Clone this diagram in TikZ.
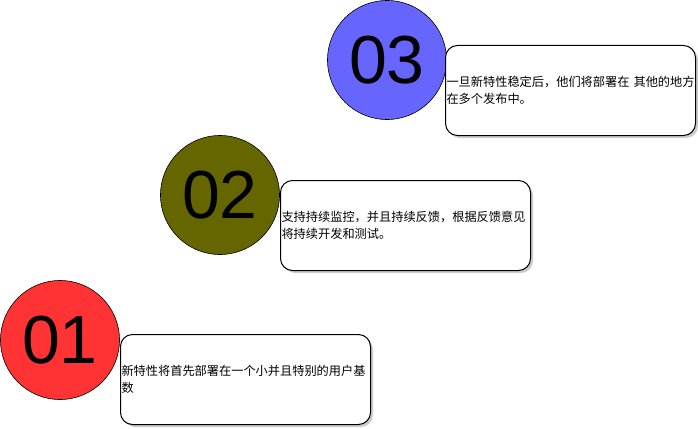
\documentclass[tikz,border=0pt]{standalone}
\usepackage{fontspec}
\setmainfont{Liberation Sans}
\newfontfamily\cjk{Noto Sans CJK SC}
\usetikzlibrary{shadows}
\definecolor{cthree}{HTML}{6666FF}
\definecolor{ctwo}{HTML}{666600}
\definecolor{cone}{HTML}{FF3333}
\begin{document}
\begin{tikzpicture}[x=1pt,y=-1pt,
  num/.style={circle,draw=black,line width=0.6pt,minimum size=119pt,inner sep=0pt,font=\fontsize{68}{68}\selectfont},
  note/.style={draw=black,line width=1pt,rounded corners=12pt,fill=white,minimum width=250pt,minimum height=90pt,text width=248pt,inner xsep=1pt,inner ysep=0pt,align=left,anchor=north west,font=\cjk\fontsize{12.2}{17}\selectfont,drop shadow={shadow xshift=2.5pt,shadow yshift=-2.5pt,fill=black!40}}]
\useasboundingbox (0,0) rectangle (698,428);
\node[num,fill=cthree] (c3) at (387,60) {03};
\node[num,fill=ctwo] (c2) at (220,195) {02};
\node[num,fill=cone] (c1) at (60,340) {01};
\node[note] (b3) at (445,45) {\mbox{一旦新特性稳定后，他们将部署在 其他的地方}\\在多个发布中。};
\node[note] (b2) at (280,180) {支持持续监控，并且持续反馈，根据反馈意见\\将持续开发和测试。};
\node[note] (b1) at (120,334) {新特性将首先部署在一个小并且特别的用户基\\数};
\end{tikzpicture}
\end{document}
